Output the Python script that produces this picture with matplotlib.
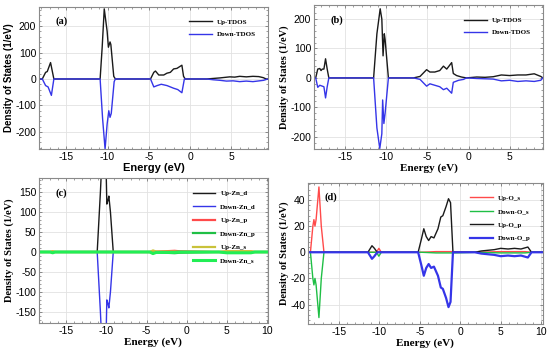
import numpy as np
import matplotlib.pyplot as plt
from matplotlib.ticker import MultipleLocator

plt.rcParams['axes.unicode_minus'] = False

# ---- panel (a) : TDOS ----
a_up_e = [-18.3, -17.9, -17.5, -17.3, -16.9, -16.5, -10.9, -10.65, -10.4, -10.05, -9.9, -9.7, -9.6, -9.25, -9.05,
          -4.8, -4.4, -4.2, -3.8, -3.2, -2.8, -2.4, -2.0, -1.6, -1.0, -0.8, -0.6,
          2.0, 2.8, 3.6, 4.2, 4.8, 5.4, 6.0, 6.8, 7.6, 8.3, 8.85, 9.2, 9.4]
a_up = [0, 0, 25, 28, 62, 0, 0, 120, 265, 180, 120, 140, 130, 10, 0,
        0, 25, 30, 15, 15, 22, 25, 38, 40, 52, 10, 0,
        0, 2, 4, 6, 8, 7, 10, 8, 10, 9, 5, 0, 0]
a_dn_e = [-18.3, -17.9, -17.5, -17.2, -16.8, -16.5, -10.9, -10.6, -10.3, -10.05, -9.85, -9.7, -9.55, -9.2, -9.05,
          -4.8, -4.4, -4.0, -3.5, -2.8, -2.0, -1.5, -1.0, -0.7,
          2.0, 2.8, 3.6, 4.4, 5.2, 6.0, 6.8, 7.6, 8.4, 8.9, 9.4]
a_dn = [0, 0, -25, -30, -62, 0, 0, -150, -265, -170, -120, -145, -130, -10, 0,
        0, -30, -25, -20, -25, -35, -40, -52, 0,
        0, -3, -5, -8, -7, -10, -8, -10, -7, -5, 0]

# ---- panel (b) : TDOS ----
b_up_e = [-18.8, -18.6, -18.35, -18.1, -17.95, -17.8, -17.6, -17.4, -17.2, -17.0,
          -11.55, -11.15, -10.75, -10.55, -10.4, -10.25, -10.15, -9.75,
          -6.7, -5.9, -5.1, -4.7, -4.1, -3.5, -3.05, -2.65, -2.05, -1.85, -1.45, -0.85, -0.25,
          1.0, 2.0, 3.0, 4.0, 5.0, 6.0, 7.0, 8.0, 8.8, 9.05]
b_up = [0, 0, 30, 32, 25, 30, 30, 65, 30, 0,
        0, 150, 235, 200, 75, 150, 130, 0,
        0, 5, 28, 20, 20, 25, 40, 30, 52, 15, 8, 3, 0,
        3, 2, 4, 10, 8, 10, 10, 14, 5, 0]
b_dn_e = [-18.8, -18.6, -18.35, -18.1, -17.8, -17.6, -17.4, -17.2, -17.0,
          -11.55, -11.15, -10.8, -10.55, -10.45, -10.3, -10.15, -9.75,
          -6.7, -5.9, -5.1, -4.7, -4.1, -3.5, -3.05, -2.65, -2.05, -1.85, -1.2, -0.6, -0.25,
          1.0, 2.0, 3.0, 4.0, 5.0, 6.0, 7.0, 8.0, 8.8, 9.05]
b_dn = [0, 0, -32, -25, -28, -30, -68, -30, 0,
        0, -170, -240, -190, -75, -155, -120, 0,
        0, -5, -28, -20, -25, -30, -40, -35, -52, -15, -8, -5, 0,
        -2, -3, -4, -10, -8, -12, -10, -12, -8, 0]

# ---- panel (c) : Zn PDOS ----
c_d_e = [-18.4, -11.15, -10.75, -10.5, -10.1, -9.95, -9.8, -9.7, -9.5, -9.15, 10.1]
c_up_d = [0, 0, 150, 260, 265, 120, 130, 140, 100, 0, 0]
c_dn_d = [0, 0, -150, -260, -265, -120, -130, -140, -100, 0, 0]
c_s_e = [-18.4, -17.0, -16.7, -16.4, -4.6, -4.2, -3.8, -2.5, -1.5, -1.0, 4.0, 5.0, 6.5, 8.0, 8.5, 10.1]
c_up_p = [0, 0, 1, 0, 0, 2, 1, 2, 3, 2, 0, 1, 1, 1, 0, 0]
c_dn_p = [0, 0, -1, 0, 0, -2, -1, -2, -3, -2, 0, -1, -1, -1, 0, 0]
c_up_s = [0, 0, 2, 0, 0, 4, 1, 1, 1, 0, 0, 2, 2, 2, 0, 0]
c_dn_s = [0, 0, -2, 0, 0, -4, -1, -1, -1, 0, 0, -2, -2, -2, 0, 0]

# ---- panel (d) : O PDOS ----
d_s_e = [-18.8, -18.5, -18.2, -18.07, -17.94, -17.8, -17.45, -17.16, -16.83,
         -10.35, -10.05, -9.75, -4.8, -3.0, -1.0, 2.0, 5.0, 8.0, 8.8, 10.2]
d_up_s = [0, 0, 20, 25, 20, 25, 50, 20, 0,
          0, 3, 0, 0, 0.5, 0.5, 0, 0.5, 0.5, 0, 0]
d_dn_s = [0, 0, -20, -25, -20, -25, -50, -20, 0,
          0, -3, 0, 0, -0.5, -0.5, 0, -0.5, -0.5, 0, 0]
d_p_e = [-18.8, -11.4, -10.9, -10.6, -10.25, -5.2, -4.8, -4.5, -4.2, -3.9, -3.6, -3.25, -2.75, -2.4,
         -2.15, -1.75, -1.45, -1.2, -0.9, 1.8, 2.6, 3.4, 4.2, 5.0, 5.9, 6.7, 7.5, 8.35, 8.8, 10.2]
d_up_p = [0, 0, 5, 3, 0, 0, 10, 18, 12, 9, 12, 11, 18, 27,
          28, 35, 41, 38, 0, 0, 1, 1.5, 2, 3, 2.5, 3, 2.5, 4, 0, 0]
d_dn_p = [0, 0, -5, -3, 0, 0, -10, -18, -12, -9, -12, -11, -18, -27,
          -28, -35, -42, -38, 0, 0, -1, -1.5, -2, -3, -2.5, -3, -2.5, -4, 0, 0]

BLACK = '#1a1a1a'
BLUE = '#3535e8'
RED = '#ff4a4a'
GREEN = '#1fbf45'
OLIVE = '#c9c23a'
LIME = '#22ee55'

serif = 'Liberation Serif'
sans = 'Liberation Sans'

fig = plt.figure(figsize=(5.5, 3.5), dpi=100)
ax_a = fig.add_axes([0.0709, 0.574, 0.416, 0.406])
ax_b = fig.add_axes([0.571, 0.574, 0.416, 0.411])
ax_c = fig.add_axes([0.0709, 0.077, 0.416, 0.414])
ax_d = fig.add_axes([0.560, 0.074, 0.427, 0.403])


def style(ax, xlim, ylim, xmaj, ymaj, label, label_font):
    ax.set_xlim(*xlim)
    ax.set_ylim(*ylim)
    ax.xaxis.set_major_locator(MultipleLocator(xmaj))
    ax.yaxis.set_major_locator(MultipleLocator(ymaj))
    ax.xaxis.set_minor_locator(MultipleLocator(xmaj / 5))
    ax.yaxis.set_minor_locator(MultipleLocator(ymaj / 5))
    ax.grid(True, which='major', color='#e2e2e2', lw=0.6)
    ax.set_axisbelow(True)
    ax.tick_params(which='both', direction='in', top=True, right=True, color='#777777',
                   labelsize=7.5, pad=2)
    ax.tick_params(which='major', length=2.5, width=0.6)
    ax.tick_params(which='minor', length=1.2, width=0.5)
    for lab in ax.get_xticklabels() + ax.get_yticklabels():
        lab.set_fontfamily(sans)
    for s in ax.spines.values():
        s.set_color('#8a8a8a')
        s.set_linewidth(0.8)
    ax.set_xlabel('Energy (eV)', fontfamily=label_font, fontweight='bold', fontsize=8, labelpad=1)
    ax.set_ylabel('Density of States (1/eV)', fontfamily=label_font, fontweight='bold',
                  fontsize=7 if label_font == sans else 7.5, labelpad=1)
    ax.text(0.07, 0.88, label, transform=ax.transAxes, fontfamily=serif, fontweight='bold',
            fontsize=7.5)


def legend(ax, ncol_gap=False):
    leg = ax.legend(loc='upper right', bbox_to_anchor=(0.97, 0.95), frameon=False,
                    prop={'family': serif, 'weight': 'bold', 'size': 5},
                    handlelength=3.2, labelspacing=1.1 if ncol_gap else 0.9, borderpad=0.2)
    return leg


# (a)
ax_a.plot(a_up_e, a_up, color=BLACK, lw=1.0, label='Up-TDOS')
ax_a.plot(a_dn_e, a_dn, color=BLUE, lw=1.0, label='Down-TDOS')
style(ax_a, (-18.3, 9.4), (-265, 272), 5, 100, '(a)', sans)
legend(ax_a)

# (b)
ax_b.plot(b_up_e, b_up, color=BLACK, lw=1.0, label='Up-TDOS')
ax_b.plot(b_dn_e, b_dn, color=BLUE, lw=1.0, label='Down-TDOS')
style(ax_b, (-18.8, 9.05), (-242, 247), 5, 100, '(b)', serif)
legend(ax_b)

# (c)
ax_c.plot(c_d_e, c_up_d, color=BLACK, lw=1.0, label='Up-Zn_d')
ax_c.plot(c_d_e, c_dn_d, color=BLUE, lw=1.0, label='Down-Zn_d')
ax_c.plot(c_s_e, c_up_p, color=RED, lw=1.6, label='Up-Zn_p')
ax_c.plot(c_s_e, c_dn_p, color=GREEN, lw=1.6, label='Down-Zn_p')
ax_c.plot(c_s_e, c_up_s, color=OLIVE, lw=1.6, label='Up-Zn_s')
ax_c.plot(c_s_e, c_dn_s, color=LIME, lw=2.2, label='Down-Zn_s')
style(ax_c, (-18.4, 10.1), (-178, 185), 5, 50, '(c)', serif)
legend(ax_c, True)

# (d)
ax_d.plot(d_s_e, d_up_s, color=RED, lw=1.0, label='Up-O_s')
ax_d.plot(d_s_e, d_dn_s, color=GREEN, lw=1.0, label='Down-O_s')
ax_d.plot(d_p_e, d_up_p, color=BLACK, lw=1.0, label='Up-O_p')
ax_d.plot(d_p_e, d_dn_p, color=BLUE, lw=1.6, label='Down-O_p')
style(ax_d, (-18.8, 10.2), (-55, 53), 5, 20, '(d)', serif)
legend(ax_d, True)

fig.savefig('out.png', dpi=100)
